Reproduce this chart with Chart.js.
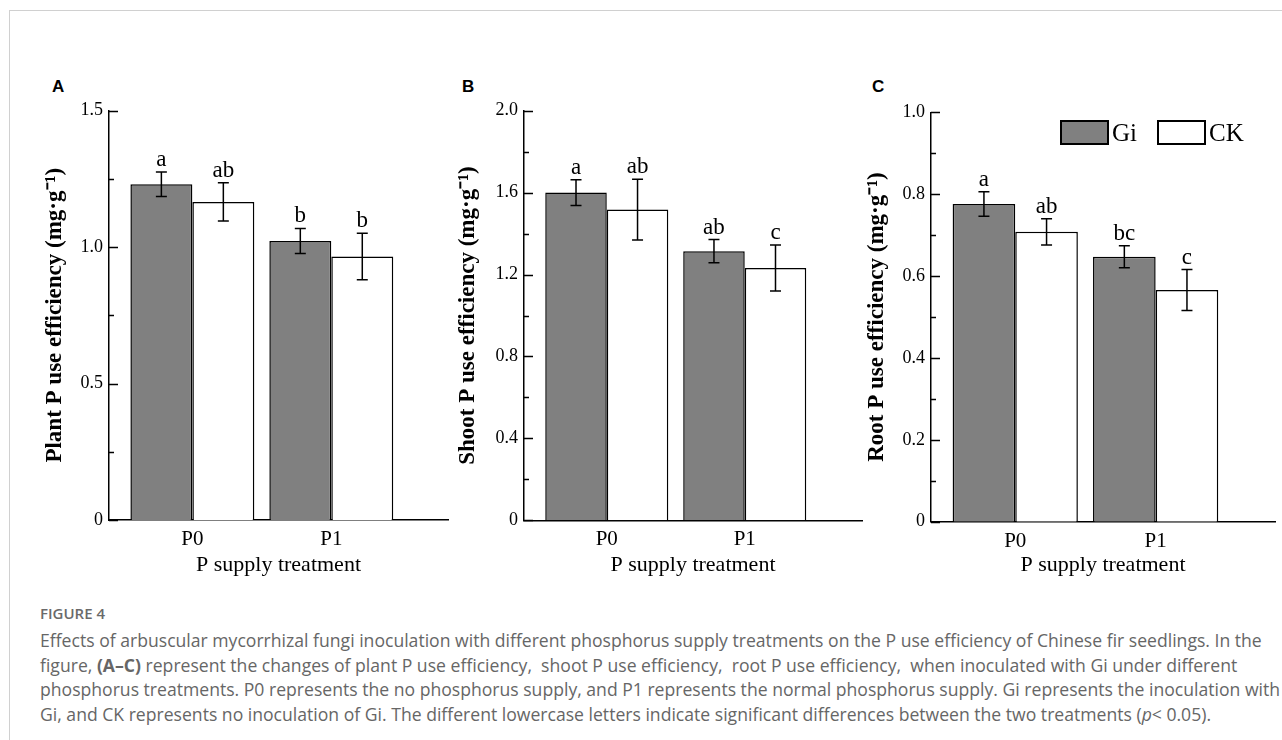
<!DOCTYPE html>
<html><head><meta charset="utf-8">
<script src="https://cdn.jsdelivr.net/npm/chart.js@4.4.0/dist/chart.umd.min.js"></script>
<style>
html,body{margin:0;padding:0;background:#fff;}
body{width:1282px;height:740px;position:relative;overflow:hidden;}
.frame-top{position:absolute;left:9px;top:10px;width:1273px;height:1px;background:#d0d0d0;}
.frame-left{position:absolute;left:9px;top:10px;width:1px;height:730px;background:#d0d0d0;}
canvas{position:absolute;}
.plab{position:absolute;font:bold 17px "Liberation Sans",Arial,sans-serif;color:#000;line-height:20px;}
.fig{position:absolute;left:40px;top:603px;font:600 15px "Open Sans",sans-serif;color:#6a6a6a;line-height:20px;}
.cap{position:absolute;left:40px;font:17.6px "Open Sans",sans-serif;color:#666;white-space:nowrap;line-height:22px;}
</style></head>
<body>
<div class="frame-top"></div><div class="frame-left"></div>
<div class="plab" style="left:52px;top:77px">A</div>
<div class="plab" style="left:462px;top:77px">B</div>
<div class="plab" style="left:872px;top:77px">C</div>
<canvas id="cA" width="445" height="500" style="left:20px;top:90px"></canvas>
<canvas id="cB" width="445" height="500" style="left:440px;top:90px"></canvas>
<canvas id="cC" width="432" height="500" style="left:850px;top:90px"></canvas>
<div class="fig">FIGURE 4</div>
<div class="cap" style="top:629px">Effects of arbuscular mycorrhizal fungi inoculation with different phosphorus supply treatments on the P use efficiency of Chinese fir seedlings. In the</div>
<div class="cap" style="top:654px">figure, <b>(A–C)</b> represent the changes of plant P use efficiency,&nbsp; shoot P use efficiency,&nbsp; root P use efficiency,&nbsp; when inoculated with Gi under different</div>
<div class="cap" style="top:678px">phosphorus treatments. P0 represents the no phosphorus supply, and P1 represents the normal phosphorus supply. Gi represents the inoculation with</div>
<div class="cap" style="top:703px">Gi, and CK represents no inoculation of Gi. The different lowercase letters indicate significant differences between the two treatments (<i>p</i>&lt; 0.05).</div>
<script>
// ---------- data ----------
const categories = ['P0', 'P1'];
const seriesNames = ['Gi', 'CK'];
const xTitle = 'P supply treatment';

const plantTitle = 'Plant P use efficiency (mg·g⁻¹)';
const plantTicks = ['0', '0.5', '1.0', '1.5'];
const plantGi = [1.23, 1.022];
const plantGiErr = [0.045, 0.046];
const plantCk = [1.165, 0.965];
const plantCkErr = [0.07, 0.085];
const plantGiLetters = ['a', 'b'];
const plantCkLetters = ['ab', 'b'];

const shootTitle = 'Shoot P use efficiency (mg·g⁻¹)';
const shootTicks = ['0', '0.4', '0.8', '1.2', '1.6', '2.0'];
const shootGi = [1.60, 1.314];
const shootGiErr = [0.063, 0.057];
const shootCk = [1.517, 1.232];
const shootCkErr = [0.148, 0.112];
const shootGiLetters = ['a', 'ab'];
const shootCkLetters = ['ab', 'c'];

const rootTitle = 'Root P use efficiency (mg·g⁻¹)';
const rootTicks = ['0', '0.2', '0.4', '0.6', '0.8', '1.0'];
const rootGi = [0.776, 0.647];
const rootGiErr = [0.030, 0.027];
const rootCk = [0.708, 0.566];
const rootCkErr = [0.032, 0.050];
const rootGiLetters = ['a', 'bc'];
const rootCkLetters = ['ab', 'c'];

// ---------- styles ----------
const GI_FILL = '#808080';
const CK_FILL = '#ffffff';
const SERIF = '"Liberation Serif","Times New Roman",serif';

function makePanel(id, o) {
  const decor = {
    id: 'decor_' + id,
    afterDatasetsDraw(chart) {
      const c = chart.ctx, ys = chart.scales.y;
      c.save();
      chart.data.datasets.forEach((ds, di) => {
        const meta = chart.getDatasetMeta(di);
        meta.data.forEach((bar, i) => {
          const v = ds.data[i].y, e = ds.errors[i];
          const yT = ys.getPixelForValue(v + e), yB = ys.getPixelForValue(v - e);
          c.strokeStyle = '#000'; c.lineWidth = 1.5;
          c.beginPath();
          c.moveTo(bar.x, yT); c.lineTo(bar.x, yB);
          c.moveTo(bar.x - 5.5, yT); c.lineTo(bar.x + 5.5, yT);
          c.moveTo(bar.x - 5.5, yB); c.lineTo(bar.x + 5.5, yB);
          c.stroke();
          c.fillStyle = '#000';
          c.font = '23px ' + SERIF;
          c.textAlign = 'center'; c.textBaseline = 'alphabetic';
          c.fillText(ds.letters[i], bar.x, yT - 6);
        });
      });
      // inner y ticks (major + minor)
      const ax = ys.right;
      const vals = ys.ticks.map(t => t.value);
      c.strokeStyle = '#000'; c.lineWidth = 1.3;
      c.beginPath();
      vals.forEach(v => { const y = Math.round(ys.getPixelForValue(v)) + 0.5; c.moveTo(ax, y); c.lineTo(ax + 9, y); });
      for (let k = 0; k < vals.length - 1; k++) {
        const y = Math.round(ys.getPixelForValue((vals[k] + vals[k + 1]) / 2)) + 0.5;
        c.moveTo(ax, y); c.lineTo(ax + 5, y);
      }
      c.stroke();
      // legend
      if (o.legend) {
        const ca = chart.chartArea;
        let bx = ca.right - 214;
        const by = ca.top + 8.7;
        c.font = '25px ' + SERIF;
        c.textAlign = 'left'; c.textBaseline = 'alphabetic';
        chart.data.datasets.forEach(ds => {
          c.fillStyle = ds.backgroundColor;
          c.fillRect(bx, by, 47, 23);
          c.strokeStyle = '#000'; c.lineWidth = 2;
          c.strokeRect(bx, by, 47, 23);
          c.fillStyle = '#000';
          c.fillText(ds.label, bx + 51, by + 19.5);
          bx += 51 + c.measureText(ds.label).width + 21;
        });
      }
      c.restore();
    }
  };
  const tickVals = o.ticks.map(parseFloat);
  return new Chart(document.getElementById(id), {
    type: 'bar',
    data: {
      datasets: [
        { label: seriesNames[0], data: o.gi.map((v, i) => ({ x: i, y: v })), errors: o.giErr, letters: o.giLet,
          backgroundColor: GI_FILL, borderColor: '#000', borderWidth: 1.5 },
        { label: seriesNames[1], data: o.ck.map((v, i) => ({ x: i, y: v })), errors: o.ckErr, letters: o.ckLet,
          backgroundColor: CK_FILL, borderColor: '#000', borderWidth: 1.5 }
      ]
    },
    options: {
      responsive: false, animation: false, devicePixelRatio: 1,
      categoryPercentage: 0.892, barPercentage: 1,
      layout: { padding: { left: 0, top: o.padTop, right: o.padRight, bottom: 0 } },
      plugins: { legend: { display: false }, tooltip: { enabled: false } },
      scales: {
        x: {
          type: 'linear', min: o.xMin, max: o.xMax, offset: false,
          afterBuildTicks: s => { s.ticks = categories.map((_, i) => ({ value: i })); },
          afterFit: s => { s.height = o.xH; },
          grid: { display: false, drawTicks: false },
          border: { display: true, color: '#000', width: 1.5 },
          ticks: { callback: (v) => categories[v], color: '#000', font: { family: SERIF, size: 21 }, padding: 7, maxRotation: 0, autoSkip: false },
          title: { display: true, text: xTitle, color: '#000', font: { family: SERIF, size: 22 }, padding: { top: 0, bottom: 12 } }
        },
        y: {
          min: tickVals[0], max: tickVals[tickVals.length - 1],
          afterBuildTicks: s => { s.ticks = tickVals.map(v => ({ value: v })); },
          afterFit: s => { s.width = o.yW; },
          grid: { display: false, drawTicks: false },
          border: { display: true, color: '#000', width: 1.5 },
          ticks: { callback: (v, i) => o.ticks[i], color: '#000', font: { family: SERIF, size: 18 }, padding: 6 },
          title: { display: true, text: o.title, color: '#000', font: { family: SERIF, size: 23, weight: 'bold' }, padding: { top: o.titlePad, bottom: 0 } }
        }
      }
    },
    plugins: [decor]
  });
}

makePanel('cA', { title: plantTitle, ticks: plantTicks, gi: plantGi, giErr: plantGiErr, ck: plantCk, ckErr: plantCkErr,
  giLet: plantGiLetters, ckLet: plantCkLetters, xMin: -0.6, xMax: 1.84, yW: 89, xH: 70, padTop: 20.5, padRight: 17, titlePad: 21 });
makePanel('cB', { title: shootTitle, ticks: shootTicks, gi: shootGi, giErr: shootGiErr, ck: shootCk, ckErr: shootCkErr,
  giLet: shootGiLetters, ckLet: shootCkLetters, xMin: -0.6, xMax: 1.85, yW: 84, xH: 69.7, padTop: 20.7, padRight: 23, titlePad: 14 });
makePanel('cC', { title: rootTitle, ticks: rootTicks, gi: rootGi, giErr: rootGiErr, ck: rootCk, ckErr: rootCkErr,
  giLet: rootGiLetters, ckLet: rootCkLetters, xMin: -0.6, xMax: 1.85, yW: 81, xH: 68.3, padTop: 22.3, padRight: 7, titlePad: 13, legend: true });
</script>
</body></html>
